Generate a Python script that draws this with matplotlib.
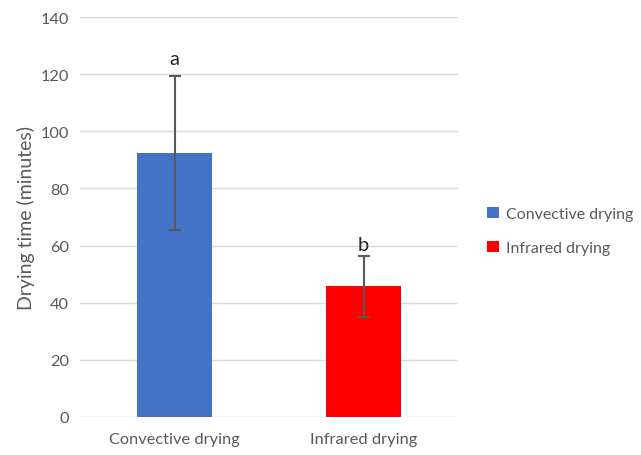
import matplotlib.pyplot as plt
import numpy as np

plt.rcParams['font.family'] = ['Lato', 'DejaVu Sans']

methods = ['Convective drying', 'Infrared drying']
drying_time = [92.5, 45.7]
drying_err = [27.0, 10.8]
letters = ['a', 'b']
colors = ['#4472c4', '#ff0000']

fig = plt.figure(figsize=(6.41, 4.56), dpi=100)
ax = fig.add_axes([80 / 641, 38 / 456, 378 / 641, 400 / 456])

x = np.arange(len(methods))
bars = ax.bar(x, drying_time, width=0.4, color=colors, label=methods, zorder=2)
ax.errorbar(x, drying_time, yerr=drying_err, fmt='none', ecolor='#595959',
            elinewidth=1.5, capsize=4.5, capthick=1.5, zorder=3)

# significance letters above the error bars
letter_pad = [6, 2]
for xi, v, e, l, p in zip(x, drying_time, drying_err, letters, letter_pad):
    ax.annotate(l, (xi, v + e), xytext=(0, p), textcoords='offset points',
                ha='center', va='bottom', fontsize=14.5, color='#262626')

ax.set_xlim(-0.5, 1.5)
ax.set_ylim(0, 140)
ax.set_yticks(np.arange(0, 141, 20))
ax.set_xticks(x)
ax.set_xticklabels(methods)
ax.yaxis.grid(True, color='#d9d9d9', linewidth=1, zorder=0)
ax.set_axisbelow(True)
for s in ['top', 'right', 'left', 'bottom']:
    ax.spines[s].set_visible(False)
ax.tick_params(axis='both', length=0, labelsize=11.8, colors='#595959', pad=8)
ax.tick_params(axis='x', pad=11)
ax.set_ylabel('Drying time (minutes)', fontsize=14, color='#595959', labelpad=4)

ax.legend(handles=bars, labels=methods, loc='center left',
          bbox_to_anchor=(1.04, 0.465), frameon=False, fontsize=11.5,
          handlelength=0.7, handleheight=0.7, handletextpad=0.45,
          labelspacing=1.2, labelcolor='#595959')

fig.savefig('out.png', dpi=100)
